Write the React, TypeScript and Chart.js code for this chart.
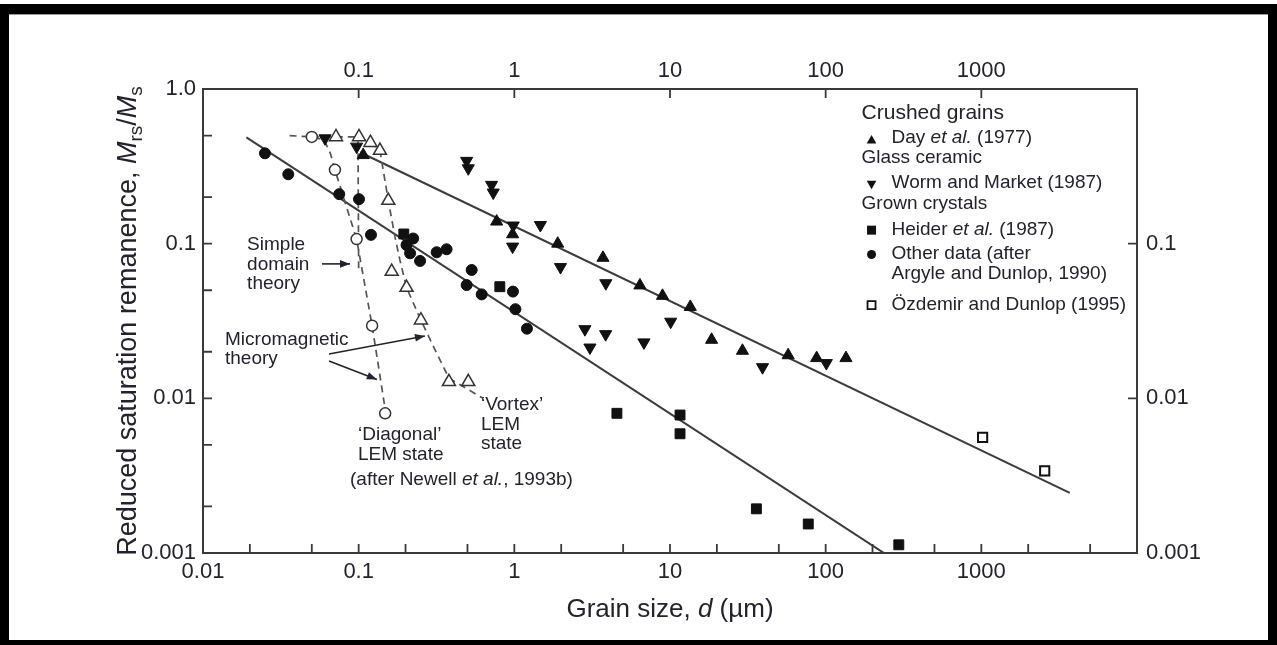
import React, { useEffect, useRef } from "react";
import { Chart, registerables } from "chart.js";

Chart.register(...registerables);

const FONT = "'Liberation Sans', Arial, Helvetica, sans-serif";
const INK = "#24222c";
const MARK = "#111111";

// Axis tick values and their printed labels
const xBottomValues = [0.01, 0.1, 1, 10, 100, 1000];
const xBottomLabels = ["0.01", "0.1", "1", "10", "100", "1000"];
const xTopValues = [0.1, 1, 10, 100, 1000];
const xTopLabels = ["0.1", "1", "10", "100", "1000"];
const yLeftValues = [1, 0.1, 0.01, 0.001];
const yLeftLabels = ["1.0", "0.1", "0.01", "0.001"];
const yRightValues = [0.1, 0.01, 0.001];
const yRightLabels = ["0.1", "0.01", "0.001"];

// Inward tick marks along each side of the frame
const xBottomMarks = [0.02, 0.05, 0.1, 0.2, 0.5, 1, 2, 5, 10, 20, 50, 100, 200, 500, 1000, 2000, 5000];
const xTopMarks = [0.1, 1, 10, 100, 1000];
const yLeftMarks = [0.5, 0.2, 0.1, 0.05, 0.02, 0.01, 0.005, 0.002];
const yRightMarks = [0.1, 0.01];

// Crushed grains: Day et al. (1977)
const dayD = [0.107, 0.77, 0.975, 1.9, 3.71, 6.41, 8.95, 13.5, 18.5, 29.2, 57.4, 87.5, 135];
const dayM = [0.374, 0.139, 0.115, 0.1, 0.081, 0.0537, 0.046, 0.039, 0.0239, 0.0203, 0.019, 0.0182, 0.0182];

// Glass ceramic: Worm and Market (1987)
const wormD = [0.0608, 0.097, 0.494, 0.506, 0.714, 0.732, 0.984, 0.975, 1.47, 1.98, 3.87, 10.1, 2.84, 3.86, 3.06, 6.8, 39.3, 101];
const wormM = [0.48, 0.424, 0.343, 0.307, 0.24, 0.214, 0.131, 0.0957, 0.132, 0.0706, 0.0555, 0.0313, 0.028, 0.026, 0.0213, 0.023, 0.0159, 0.0169];

// Grown crystals: Heider et al. (1987)
const heiderD = [0.195, 0.807, 4.56, 11.6, 11.6, 35.9, 77.3, 295];
const heiderM = [0.1155, 0.0527, 0.008, 0.0078, 0.0059, 0.00193, 0.00154, 0.00113];

// Other data (after Argyle and Dunlop, 1990)
const otherD = [0.025, 0.0353, 0.075, 0.1005, 0.12, 0.224, 0.203, 0.214, 0.248, 0.317, 0.367, 0.532, 0.494, 0.617, 0.98, 1.016, 1.205];
const otherM = [0.384, 0.281, 0.209, 0.194, 0.114, 0.108, 0.098, 0.0867, 0.0773, 0.088, 0.092, 0.0676, 0.054, 0.047, 0.049, 0.0377, 0.0282];

// Özdemir and Dunlop (1995)
const ozD = [1019, 2553];
const ozM = [0.0056, 0.0034];

// Micromagnetic LEM results (after Newell et al., 1993b)
const diagPtsD = [0.05, 0.0704, 0.097, 0.122, 0.148];
const diagPtsM = [0.49, 0.3, 0.107, 0.0295, 0.008];
const vortPtsD = [0.0715, 0.1005, 0.119, 0.137, 0.155, 0.163, 0.203, 0.251, 0.38, 0.506];
const vortPtsM = [0.49, 0.49, 0.45, 0.4, 0.19, 0.066, 0.052, 0.032, 0.0128, 0.0128];

// Theory curves (dashed)
const diagCurveD = [0.036, 0.05, 0.06, 0.066, 0.0704, 0.097, 0.122, 0.148];
const diagCurveM = [0.5, 0.49, 0.47, 0.38, 0.3, 0.107, 0.0295, 0.0085];
const vortCurveD = [0.05, 0.0715, 0.1005, 0.119, 0.137, 0.155, 0.171, 0.184, 0.203, 0.251, 0.317, 0.38, 0.63];
const vortCurveM = [0.49, 0.49, 0.49, 0.45, 0.4, 0.19, 0.111, 0.0785, 0.052, 0.032, 0.0196, 0.0135, 0.01];
const sdCurveD = [0.099, 0.1];
const sdCurveM = [0.46, 0.068];

// Fitted trend lines (solid)
const lowerFitD = [0.019, 244];
const lowerFitM = [0.487, 0.00098];
const upperFitD = [0.102, 3700];
const upperFitM = [0.39, 0.00245];

const pts = (xs: number[], ys: number[]) => xs.map((x, i) => ({ x, y: ys[i] }));

type Seg = { t: string; it?: boolean; sub?: boolean };

function segFont(s: Seg, size: number) {
  const sz = s.sub ? Math.round(size * 0.7) : size;
  return `${s.it ? "italic " : ""}${sz}px ${FONT}`;
}

function richWidth(ctx: CanvasRenderingContext2D, segs: Seg[], size: number) {
  let w = 0;
  for (const s of segs) {
    ctx.font = segFont(s, size);
    w += ctx.measureText(s.t).width;
  }
  return w;
}

function drawRich(
  ctx: CanvasRenderingContext2D,
  segs: Seg[],
  x: number,
  y: number,
  size: number,
  align: "left" | "center"
) {
  const total = richWidth(ctx, segs, size);
  let cx = align === "center" ? x - total / 2 : x;
  ctx.textAlign = "left";
  for (const s of segs) {
    ctx.font = segFont(s, size);
    ctx.fillText(s.t, cx, y + (s.sub ? size * 0.24 : 0));
    cx += ctx.measureText(s.t).width;
  }
}

function drawArrow(ctx: CanvasRenderingContext2D, x1: number, y1: number, x2: number, y2: number) {
  ctx.beginPath();
  ctx.moveTo(x1, y1);
  ctx.lineTo(x2, y2);
  ctx.stroke();
  const a = Math.atan2(y2 - y1, x2 - x1);
  const L = 10;
  const W = 3.8;
  ctx.beginPath();
  ctx.moveTo(x2, y2);
  ctx.lineTo(x2 - L * Math.cos(a) + W * Math.sin(a), y2 - L * Math.sin(a) - W * Math.cos(a));
  ctx.lineTo(x2 - L * Math.cos(a) - W * Math.sin(a), y2 - L * Math.sin(a) + W * Math.cos(a));
  ctx.closePath();
  ctx.fill();
}

function drawMarker(ctx: CanvasRenderingContext2D, kind: string, x: number, y: number) {
  ctx.save();
  ctx.fillStyle = MARK;
  ctx.strokeStyle = MARK;
  ctx.lineWidth = 1.8;
  ctx.beginPath();
  if (kind === "triUp") {
    ctx.moveTo(x, y - 5.5);
    ctx.lineTo(x + 4.8, y + 3);
    ctx.lineTo(x - 4.8, y + 3);
    ctx.closePath();
    ctx.fill();
  } else if (kind === "triDown") {
    ctx.moveTo(x, y + 4.5);
    ctx.lineTo(x + 4.8, y - 4);
    ctx.lineTo(x - 4.8, y - 4);
    ctx.closePath();
    ctx.fill();
  } else if (kind === "square") {
    ctx.rect(x - 4.5, y - 4.5, 9, 9);
    ctx.fill();
  } else if (kind === "dot") {
    ctx.arc(x, y, 4.5, 0, Math.PI * 2);
    ctx.fill();
  } else if (kind === "openSquare") {
    ctx.rect(x - 4, y - 4, 8, 8);
    ctx.stroke();
  }
  ctx.restore();
}

// Legend and annotation anchors, in data coordinates (grain size, Mrs/Ms)
const legendAnchor = { d: 170, m: 0.7 };
const simpleAnchor = { d: 0.0192, m: 0.098 };
const simpleArrow = { d1: 0.0581, d2: 0.088, m: 0.074 };
const microAnchor = { d: 0.01385, m: 0.02385 };
const microArrowA = { d1: 0.0645, m1: 0.01936, d2: 0.2666, m2: 0.0253 };
const microArrowB = { d1: 0.0645, m1: 0.01745, d2: 0.131, m2: 0.01325 };
const diagAnchor = { d: 0.099, m: 0.0058 };
const newellAnchor = { d: 0.088, m: 0.00297 };
const vortAnchor = { d: 0.61, m: 0.00906 };

const decorPlugin = {
  id: "decor",
  beforeDraw(chart: any) {
    const { ctx, width, height } = chart;
    ctx.save();
    ctx.fillStyle = "#ffffff";
    ctx.fillRect(0, 0, width, height);
    ctx.fillStyle = "#000000";
    ctx.fillRect(0, 4, width, 10);
    ctx.fillRect(0, 4, 9, height - 4);
    ctx.fillRect(width - 9, 4, 9, height - 4);
    ctx.fillRect(0, height - 5, width, 5);
    ctx.fillStyle = "#9a9a9a";
    ctx.fillRect(9, 14, width - 18, 1);
    ctx.restore();
  },
  afterDraw(chart: any) {
    const { ctx, chartArea } = chart;
    const xs = chart.scales.x;
    const ys = chart.scales.y;
    const px = (d: number) => xs.getPixelForValue(d);
    const py = (m: number) => ys.getPixelForValue(m);
    const { left, right, top, bottom } = chartArea;

    ctx.save();
    // frame
    ctx.strokeStyle = "#3a3a3a";
    ctx.lineWidth = 2;
    ctx.strokeRect(left, top, right - left, bottom - top);

    // inward tick marks
    const TL = 9;
    ctx.lineWidth = 1.8;
    ctx.beginPath();
    for (const v of xBottomMarks) {
      const x = px(v);
      ctx.moveTo(x, bottom);
      ctx.lineTo(x, bottom - TL);
    }
    for (const v of xTopMarks) {
      const x = px(v);
      ctx.moveTo(x, top);
      ctx.lineTo(x, top + TL);
    }
    for (const v of yLeftMarks) {
      const y = py(v);
      ctx.moveTo(left, y);
      ctx.lineTo(left + TL, y);
    }
    for (const v of yRightMarks) {
      const y = py(v);
      ctx.moveTo(right, y);
      ctx.lineTo(right - TL, y);
    }
    ctx.stroke();

    ctx.fillStyle = INK;
    ctx.strokeStyle = INK;

    // axis titles
    ctx.textBaseline = "alphabetic";
    drawRich(
      ctx,
      [{ t: "Grain size, " }, { t: "d", it: true }, { t: " (µm)" }],
      (left + right) / 2,
      617,
      26,
      "center"
    );
    ctx.save();
    ctx.translate(136, (top + bottom) / 2);
    ctx.rotate(-Math.PI / 2);
    drawRich(
      ctx,
      [
        { t: "Reduced saturation remanence, " },
        { t: "M", it: true },
        { t: "rs", sub: true },
        { t: "/" },
        { t: "M", it: true },
        { t: "s", sub: true },
      ],
      0,
      0,
      27,
      "center"
    );
    ctx.restore();

    // annotations
    ctx.textBaseline = "middle";
    const AS = 19;
    const LH = 19.5;
    let ax = px(simpleAnchor.d);
    let ay = py(simpleAnchor.m);
    ["Simple", "domain", "theory"].forEach((t, i) => drawRich(ctx, [{ t }], ax, ay + i * LH, AS, "left"));
    ctx.lineWidth = 1.6;
    drawArrow(ctx, px(simpleArrow.d1), py(simpleArrow.m), px(simpleArrow.d2), py(simpleArrow.m));

    ax = px(microAnchor.d);
    ay = py(microAnchor.m);
    ["Micromagnetic", "theory"].forEach((t, i) => drawRich(ctx, [{ t }], ax, ay + i * 18.5, AS, "left"));
    drawArrow(ctx, px(microArrowA.d1), py(microArrowA.m1), px(microArrowA.d2), py(microArrowA.m2));
    drawArrow(ctx, px(microArrowB.d1), py(microArrowB.m1), px(microArrowB.d2), py(microArrowB.m2));

    ax = px(diagAnchor.d);
    ay = py(diagAnchor.m);
    ["\u2018Diagonal\u2019", "LEM state"].forEach((t, i) => drawRich(ctx, [{ t }], ax, ay + i * LH, AS, "left"));
    drawRich(
      ctx,
      [{ t: "(after Newell " }, { t: "et al.", it: true }, { t: ", 1993b)" }],
      px(newellAnchor.d),
      py(newellAnchor.m),
      AS,
      "left"
    );
    ax = px(vortAnchor.d);
    ay = py(vortAnchor.m);
    ["\u2018Vortex\u2019", "LEM", "state"].forEach((t, i) => drawRich(ctx, [{ t }], ax, ay + i * LH, AS, "left"));

    // legend
    const lx = px(legendAnchor.d);
    const ly = py(legendAnchor.m);
    const rows: { dy: number; dx: number; segs: Seg[]; size?: number; marker?: string }[] = [
      { dy: 0, dx: 0, segs: [{ t: "Crushed grains" }], size: 21 },
      { dy: 25, dx: 30, segs: [{ t: "Day " }, { t: "et al.", it: true }, { t: " (1977)" }], marker: "triUp" },
      { dy: 45, dx: 0, segs: [{ t: "Glass ceramic" }] },
      { dy: 69.4, dx: 30, segs: [{ t: "Worm and Market (1987)" }], marker: "triDown" },
      { dy: 91, dx: 0, segs: [{ t: "Grown crystals" }] },
      { dy: 116.7, dx: 30, segs: [{ t: "Heider " }, { t: "et al.", it: true }, { t: " (1987)" }], marker: "square" },
      { dy: 141, dx: 30, segs: [{ t: "Other data (after" }], marker: "dot" },
      { dy: 161, dx: 30, segs: [{ t: "Argyle and Dunlop, 1990)" }] },
      { dy: 191.7, dx: 30, segs: [{ t: "\u00D6zdemir and Dunlop (1995)" }], marker: "openSquare" },
    ];
    for (const r of rows) {
      drawRich(ctx, r.segs, lx + r.dx, ly + r.dy, r.size || 19, "left");
      if (r.marker) {
        const off = r.marker === "triUp" || r.marker === "triDown" ? 2.5 : 0.5;
        drawMarker(ctx, r.marker, lx + 10, ly + r.dy + off);
      }
    }
    ctx.restore();
  },
};

const tickFont = { family: FONT, size: 22 };

function fixedWidth(w: number) {
  return (s: any) => {
    s.width = w;
  };
}
function fixedHeight(h: number) {
  return (s: any) => {
    s.height = h;
  };
}

export default function App() {
  const ref = useRef<HTMLCanvasElement>(null);

  useEffect(() => {
    const solid = { showLine: true, pointRadius: 0, borderColor: "#3c3c3c", borderWidth: 2, fill: false };
    const dashed = { showLine: true, pointRadius: 0, borderColor: "#555555", borderWidth: 1.7, borderDash: [7, 5], fill: false };

    const chart = new Chart(ref.current as HTMLCanvasElement, {
      type: "scatter",
      data: {
        datasets: [
          { label: "Day et al. (1977)", data: pts(dayD, dayM), pointStyle: "triangle", pointRadius: 7, backgroundColor: MARK, borderColor: MARK, borderWidth: 1 },
          { label: "Worm and Market (1987)", data: pts(wormD, wormM), pointStyle: "triangle", pointRotation: 180, pointRadius: 7, backgroundColor: MARK, borderColor: MARK, borderWidth: 1 },
          { label: "Heider et al. (1987)", data: pts(heiderD, heiderM), pointStyle: "rect", pointRadius: 7, backgroundColor: MARK, borderColor: MARK, borderWidth: 1 },
          { label: "Other data", data: pts(otherD, otherM), pointStyle: "circle", pointRadius: 5.5, backgroundColor: MARK, borderColor: MARK, borderWidth: 1 },
          { label: "Özdemir and Dunlop (1995)", data: pts(ozD, ozM), pointStyle: "rect", pointRadius: 6.5, backgroundColor: "#ffffff", borderColor: MARK, borderWidth: 2 },
          { label: "Diagonal LEM", data: pts(diagPtsD, diagPtsM), pointStyle: "circle", pointRadius: 5.5, backgroundColor: "#ffffff", borderColor: "#333333", borderWidth: 1.5 },
          { label: "Vortex LEM", data: pts(vortPtsD, vortPtsM), pointStyle: "triangle", pointRadius: 7.5, backgroundColor: "#ffffff", borderColor: "#333333", borderWidth: 1.5 },
          { label: "Diagonal curve", data: pts(diagCurveD, diagCurveM), ...dashed },
          { label: "Vortex curve", data: pts(vortCurveD, vortCurveM), ...dashed },
          { label: "Simple domain", data: pts(sdCurveD, sdCurveM), ...dashed },
          { label: "Lower fit", data: pts(lowerFitD, lowerFitM), ...solid },
          { label: "Upper fit", data: pts(upperFitD, upperFitM), ...solid },
        ] as any,
      },
      options: {
        responsive: false,
        animation: false,
        devicePixelRatio: 1,
        events: [],
        layout: { padding: 0 },
        plugins: { legend: { display: false }, tooltip: { enabled: false } },
        scales: {
          x: {
            type: "logarithmic",
            position: "bottom",
            min: 0.01,
            max: 10000,
            grid: { display: false, drawTicks: false },
            border: { display: false },
            ticks: { autoSkip: false, maxRotation: 0, padding: 6, font: tickFont, color: INK, callback: (_v: any, i: number) => xBottomLabels[i] },
            afterBuildTicks: (s: any) => {
              s.ticks = xBottomValues.map((value) => ({ value }));
            },
            afterFit: fixedHeight(92),
          },
          xTop: {
            type: "logarithmic",
            position: "top",
            display: true,
            min: 0.01,
            max: 10000,
            grid: { display: false, drawTicks: false },
            border: { display: false },
            ticks: { autoSkip: false, maxRotation: 0, padding: 5, font: tickFont, color: INK, callback: (_v: any, i: number) => xTopLabels[i] },
            afterBuildTicks: (s: any) => {
              s.ticks = xTopValues.map((value) => ({ value }));
            },
            afterFit: fixedHeight(89),
          },
          y: {
            type: "logarithmic",
            position: "left",
            min: 0.001,
            max: 1,
            grid: { display: false, drawTicks: false },
            border: { display: false },
            ticks: { autoSkip: false, padding: 7, font: tickFont, color: INK, callback: (_v: any, i: number) => yLeftLabels[i] },
            afterBuildTicks: (s: any) => {
              s.ticks = yLeftValues.map((value) => ({ value }));
            },
            afterFit: fixedWidth(203),
          },
          yRight: {
            type: "logarithmic",
            position: "right",
            display: true,
            min: 0.001,
            max: 1,
            grid: { display: false, drawTicks: false },
            border: { display: false },
            ticks: { autoSkip: false, padding: 9, font: tickFont, color: INK, callback: (_v: any, i: number) => yRightLabels[i] },
            afterBuildTicks: (s: any) => {
              s.ticks = yRightValues.map((value) => ({ value }));
            },
            afterFit: fixedWidth(140),
          },
        } as any,
      },
      plugins: [decorPlugin],
    } as any);

    return () => chart.destroy();
  }, []);

  return (
    <div style={{ position: "fixed", left: 0, top: 0, width: 1277, height: 645, background: "#ffffff" }}>
      <canvas ref={ref} width={1277} height={645} style={{ display: "block" }} />
    </div>
  );
}
